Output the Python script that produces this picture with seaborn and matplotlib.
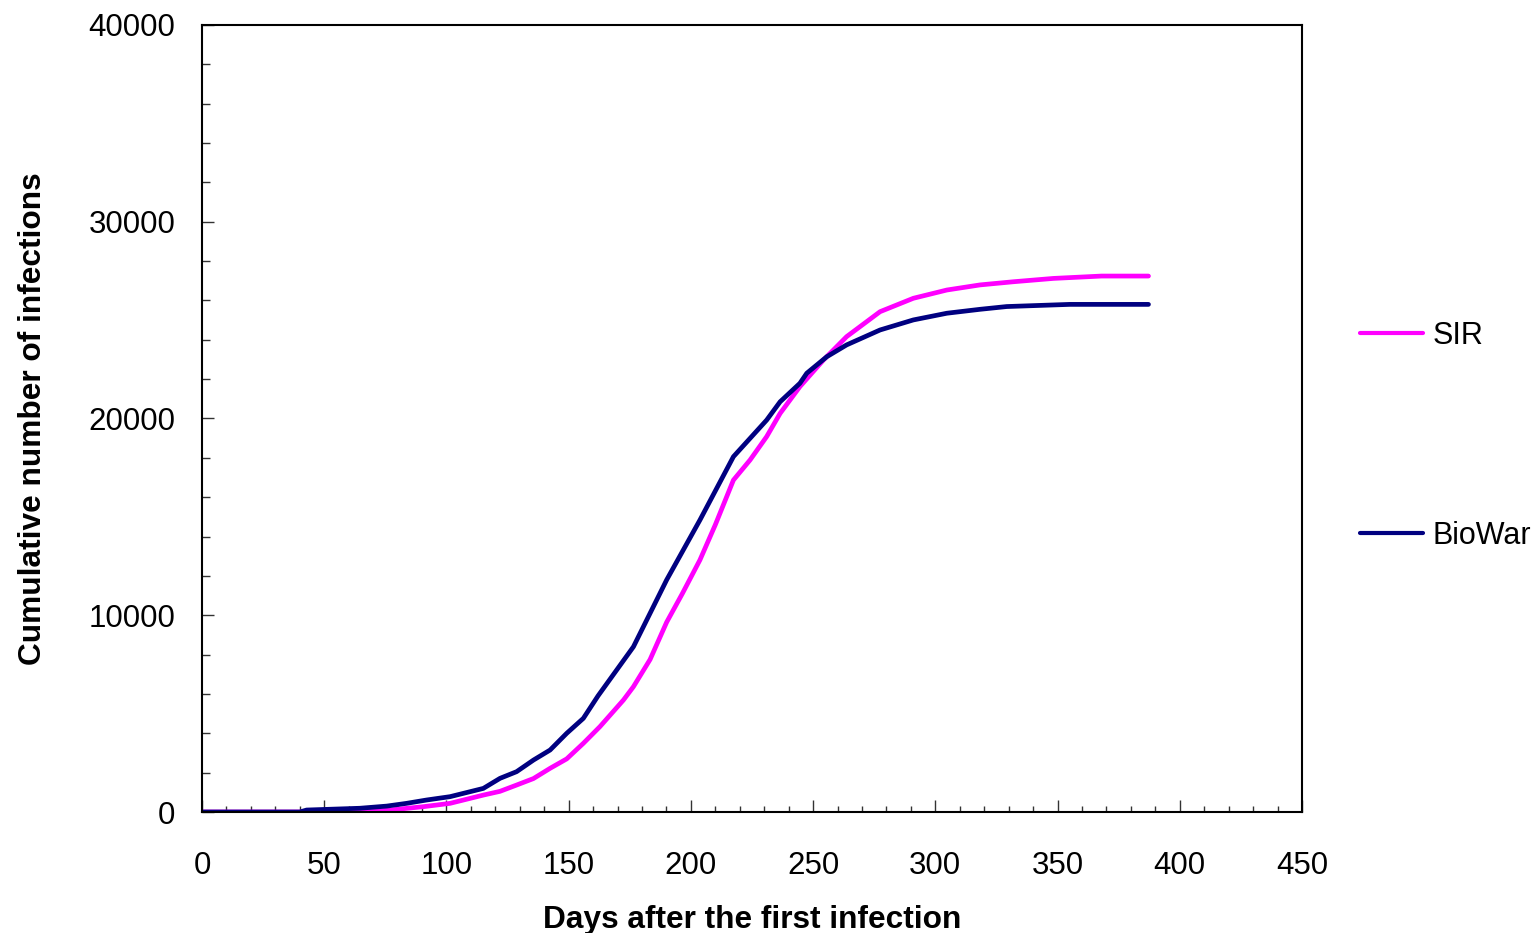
import matplotlib
matplotlib.use("Agg")
import matplotlib.pyplot as plt
import seaborn as sns
import pandas as pd
from matplotlib.ticker import MultipleLocator
from matplotlib.lines import Line2D

# Cumulative infections per model (day, count)
sir_days = [0, 40, 64.6, 76.9, 90.5, 101.5, 115.1, 121.9, 128.7, 135.6, 142.4,
            149.2, 156.0, 162.8, 172.4, 176.5, 183.3, 190.1, 196.5, 203.7, 210.0,
            217.4, 224.2, 231.0, 236.5, 244.6, 254.2, 263.7, 277.4, 291.0, 304.7,
            318.3, 331.9, 348.3, 368.0, 387.2]
sir_values = [0, 0, 0, 100, 270, 440, 860, 1050, 1370, 1700, 2220,
              2700, 3490, 4340, 5690, 6370, 7750, 9650, 11100, 12810, 14600,
              16870, 17890, 19080, 20260, 21620, 22970, 24160, 25430, 26110, 26530,
              26790, 26950, 27120, 27240, 27240]

biowar_days = [0, 40, 42.8, 64.6, 75.6, 83.7, 91.9, 101.5, 115.1, 121.9, 128.7,
               135.6, 142.4, 149.2, 156.0, 162.0, 176.5, 190.1, 203.7, 217.4, 231.0,
               236.5, 244.6, 247.4, 255.6, 263.7, 277.4, 291.0, 304.7, 318.3, 329.2,
               355.0, 387.2]
biowar_values = [0, 0, 100, 190, 300, 440, 610, 780, 1200, 1710, 2050,
                 2640, 3150, 4000, 4760, 5900, 8400, 11800, 14840, 18060, 19920,
                 20850, 21790, 22300, 23140, 23740, 24500, 25010, 25350, 25550, 25690,
                 25800, 25800]

series_names = ["SIR", "BioWar"]
series_colors = {"SIR": "#FF00FF", "BioWar": "#000080"}

df = pd.concat([
    pd.DataFrame({"day": sir_days, "infections": sir_values, "model": "SIR"}),
    pd.DataFrame({"day": biowar_days, "infections": biowar_values, "model": "BioWar"}),
], ignore_index=True)

sns.set_theme(style="white")
plt.rcParams["font.family"] = ["Liberation Sans", "DejaVu Sans"]
plt.rcParams["text.color"] = "black"
plt.rcParams["axes.labelcolor"] = "black"
plt.rcParams["xtick.labelcolor"] = "black"
plt.rcParams["ytick.labelcolor"] = "black"

fig = plt.figure(figsize=(15.32, 9.33), dpi=100)
ax = fig.add_axes([202 / 1532, 1 - 812 / 933, 1100 / 1532, 787 / 933])

sns.lineplot(data=df, x="day", y="infections", hue="model", hue_order=series_names,
             palette=series_colors, linewidth=3.4, ax=ax, legend=False,
             estimator=None, sort=True)

ax.set_xlim(0, 450)
ax.set_ylim(0, 40000)
ax.xaxis.set_major_locator(MultipleLocator(50))
ax.xaxis.set_minor_locator(MultipleLocator(10))
ax.yaxis.set_major_locator(MultipleLocator(10000))
ax.yaxis.set_minor_locator(MultipleLocator(2000))

for side in ["left", "bottom", "top", "right"]:
    ax.spines[side].set_visible(True)
    ax.spines[side].set_color("black")
    ax.spines[side].set_linewidth(1.5)

ax.tick_params(axis="x", which="major", direction="in", length=8.5, width=1,
               color="#333333", labelsize=22.5, pad=28, top=False, bottom=True)
ax.tick_params(axis="x", which="minor", direction="in", length=4.5, width=1,
               color="#333333", top=False, bottom=True)
ax.tick_params(axis="y", which="major", direction="in", length=8.5, width=1,
               color="#333333", labelsize=22.5, pad=19, left=True, right=False)
ax.tick_params(axis="y", which="minor", direction="in", length=5.5, width=1,
               color="#333333", left=True, right=False)

ax.set_xlabel("Days after the first infection", fontsize=22.8, fontweight="bold")
ax.set_ylabel("Cumulative number of infections", fontsize=22.8, fontweight="bold")
ax.xaxis.set_label_coords(0.5, -0.118)
ax.yaxis.set_label_coords(-0.14, 0.5)

handles = [Line2D([], [], color=series_colors[n], linewidth=3) for n in series_names]
fig.legend(handles, series_names, loc="center left",
           bbox_to_anchor=(1360 / 1532, 1 - 436 / 933), frameon=False,
           fontsize=22, handlelength=2.06, handletextpad=0.3, borderpad=0,
           borderaxespad=0, labelspacing=5.56)

fig.savefig("out.png", dpi=100)
